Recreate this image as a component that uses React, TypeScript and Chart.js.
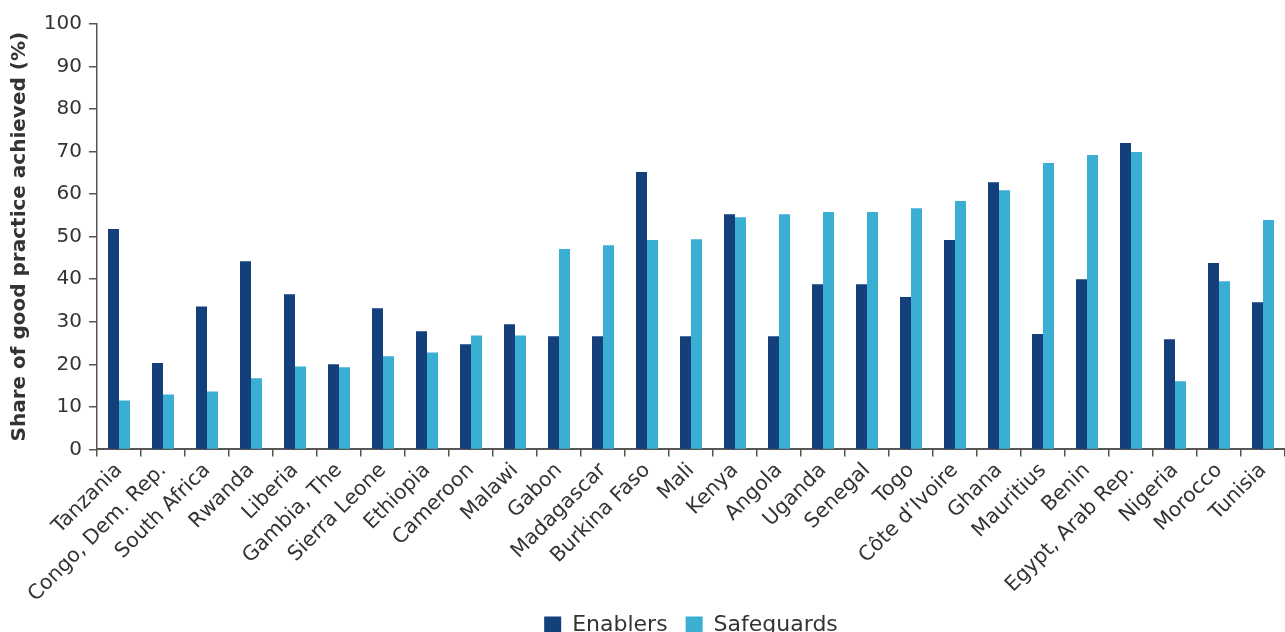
import React, { useEffect, useRef } from "react";
import { Chart, registerables } from "chart.js";

Chart.register(...registerables);

const categories = [
  "Tanzania", "Congo, Dem. Rep.", "South Africa", "Rwanda", "Liberia", "Gambia, The",
  "Sierra Leone", "Ethiopia", "Cameroon", "Malawi", "Gabon", "Madagascar", "Burkina Faso",
  "Mali", "Kenya", "Angola", "Uganda", "Senegal", "Togo", "Côte d’Ivoire", "Ghana",
  "Mauritius", "Benin", "Egypt, Arab Rep.", "Nigeria", "Morocco", "Tunisia",
];

const enablers = [
  51.8, 20.3, 33.6, 44.2, 36.5, 20.0, 33.2, 27.8, 24.7, 29.4, 26.6, 26.6, 65.2,
  26.6, 55.3, 26.6, 38.8, 38.8, 35.8, 49.2, 62.8, 27.1, 40.0, 72.0, 25.9, 43.8, 34.6,
];

const safeguards = [
  11.5, 12.9, 13.6, 16.7, 19.5, 19.3, 21.9, 22.8, 26.8, 26.8, 47.1, 48.0, 49.2,
  49.4, 54.6, 55.3, 55.8, 55.8, 56.7, 58.4, 60.9, 67.3, 69.2, 69.9, 16.0, 39.5, 53.9,
];

const yTitle = "Share of good practice achieved (%)";
const FONT = "'DejaVu Sans', sans-serif";
const TEXT = "#333333";
const AXIS = "#555555";

// moves the legend up so it can sit closer to the rotated labels
const legendShift = {
  id: "legendShift",
  afterLayout(chart: any) {
    const l = chart.legend;
    if (l) {
      l.top -= 20;
      l.bottom -= 20;
    }
  },
};

export default function App() {
  const ref = useRef<HTMLCanvasElement | null>(null);

  useEffect(() => {
    if (!ref.current) return;
    const chart = new Chart(ref.current, {
      type: "bar",
      data: {
        labels: categories,
        datasets: [
          {
            label: "Enablers",
            data: enablers,
            backgroundColor: "#13407B",
            categoryPercentage: 0.5,
            barPercentage: 1.0,
          },
          {
            label: "Safeguards",
            data: safeguards,
            backgroundColor: "#3BAED4",
            categoryPercentage: 0.5,
            barPercentage: 1.0,
          },
        ],
      },
      plugins: [legendShift],
      options: {
        responsive: false,
        animation: false,
        layout: { padding: { top: 24, left: 0, right: 0, bottom: 0 } },
        plugins: {
          tooltip: { enabled: false },
          legend: {
            position: "bottom",
            fullSize: false,
            labels: {
              color: TEXT,
              font: { family: FONT, size: 22 },
              boxWidth: 17,
              boxHeight: 17,
              padding: 18,
            },
          },
        },
        scales: {
          x: {
            afterFit: (s: any) => {
              s.height = 166.6;
            },
            grid: {
              display: true,
              drawOnChartArea: false,
              drawTicks: true,
              tickLength: 7,
              offset: true,
              color: AXIS,
              lineWidth: 1.5,
            },
            border: { display: true, color: AXIS, width: 2 },
            ticks: {
              color: TEXT,
              font: { family: FONT, size: 20.5 },
              minRotation: 45,
              maxRotation: 45,
              autoSkip: false,
              padding: 2,
            },
          },
          y: {
            min: 0,
            max: 100,
            afterFit: (s: any) => {
              s.width = 97;
            },
            grid: {
              display: true,
              drawOnChartArea: false,
              drawTicks: true,
              tickLength: 8,
              color: AXIS,
              lineWidth: 1.5,
            },
            border: { display: true, color: AXIS, width: 1.5 },
            ticks: {
              stepSize: 10,
              color: TEXT,
              font: { family: FONT, size: 20 },
              padding: 7,
            },
            title: {
              display: true,
              text: yTitle,
              color: TEXT,
              font: { family: FONT, size: 20, weight: "bold" },
              padding: { top: 8, bottom: 0 },
            },
          },
        },
      },
    });
    return () => chart.destroy();
  }, []);

  return (
    <div
      style={{
        position: "fixed",
        left: 0,
        top: 0,
        width: 1285,
        height: 632,
        overflow: "hidden",
        background: "#ffffff",
      }}
    >
      <canvas ref={ref} width={1285} height={666} style={{ display: "block" }} />
    </div>
  );
}
